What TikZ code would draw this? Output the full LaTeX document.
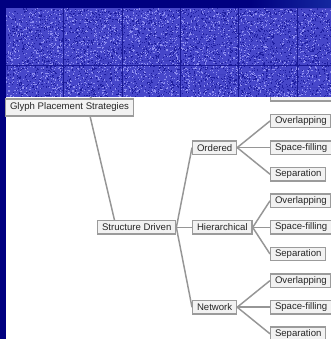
\documentclass[tikz,border=0pt]{standalone}
\usepackage{fontspec}
\setmainfont{Liberation Sans}
\usetikzlibrary{calc}
\definecolor{navy}{RGB}{0,0,128}
\definecolor{ovl}{RGB}{58,58,198}
\definecolor{noiselight}{RGB}{140,140,240}
\definecolor{noisedark}{RGB}{30,30,160}
\definecolor{gridc}{RGB}{25,25,150}
\definecolor{boxfill}{RGB}{242,242,242}
\definecolor{boxline}{RGB}{155,155,155}
\definecolor{linkc}{RGB}{150,150,150}
\definecolor{streak}{RGB}{20,40,160}
\begin{document}
\begin{tikzpicture}[x=0.75pt,y=-0.75pt,
  gbox/.style={draw=boxline, line width=1.1pt, fill=boxfill,
    font=\fontsize{7.2}{8}\selectfont, text=black!85,
    inner xsep=3.2pt, inner ysep=0pt, minimum height=10pt, anchor=west},
  hidbox/.style={gbox, minimum width=#1},
  link/.style={draw=linkc, line width=1.1pt},
]
\useasboundingbox (0,0) rectangle (331,339);
% background frame
\fill[navy] (0,0) rectangle (331,339);
\shade[left color=navy, right color=streak] (250,0) rectangle (331,8.3);
\fill[white] (6,8.3) rectangle (331,339);

% hidden (covered) branch
\begin{scope}
\clip (6,8.3) rectangle (331,339);
\node[hidbox=54.75pt] (dd) at (99,54.5) {};
\node[hidbox=30.75pt] (dc1) at (192,27.9) {};
\node[hidbox=27pt] (dc2) at (193,81.1) {};
\node[hidbox=46.5pt] (dl1) at (270,14.6) {};
\node[hidbox=46.5pt] (dl2) at (270,41.2) {};
\node[hidbox=46.5pt] (dl3) at (270,67.8) {};
\node[hidbox=46.5pt] (dl4) at (270,94.4) {};
\end{scope}

% visible tree
\node[gbox, minimum height=12.5pt] (root) at (5,107.5) {Glyph Placement Strategies};
\node[gbox] (sd) at (97,227.4) {Structure Driven};
\node[gbox] (ord) at (192,147.6) {Ordered};
\node[gbox] (hier) at (192,227.4) {Hierarchical};
\node[gbox] (net) at (192,307.2) {Network};

\node[gbox] (o1) at (270,121) {Overlapping};
\node[gbox] (o2) at (270,147.6) {Space-filling};
\node[gbox] (o3) at (270,174.2) {Separation};
\node[gbox] (h1) at (270,200.8) {Overlapping};
\node[gbox] (h2) at (270,227.4) {Space-filling};
\node[gbox] (h3) at (270,254) {Separation};
\node[gbox] (n1) at (270,280.6) {Overlapping};
\node[gbox] (n2) at (270,307.2) {Space-filling};
\node[gbox] (n3) at (270,333.8) {Separation};

% connectors
\draw[link] ($(root.south west)!0.66!(root.south east)$) -- ($(sd.north west)!0.22!(sd.north east)$);
\draw[link] ($(root.north west)!0.66!(root.north east)$) -- ($(dd.south west)!0.22!(dd.south east)$);
\draw[link] (dd.east) -- (dc1.west);
\draw[link] (dd.east) -- (dc2.west);
\draw[link] (dc1.east) -- (dl1.west);
\draw[link] (dc1.east) -- (dl2.west);
\draw[link] (dc2.east) -- (dl3.west);
\draw[link] (dc2.east) -- (dl4.west);
\draw[link] (sd.east) -- (ord.west);
\draw[link] (sd.east) -- (hier.west);
\draw[link] (sd.east) -- (net.west);
\foreach \p/\c in {ord/o1,ord/o2,ord/o3,hier/h1,hier/h2,hier/h3,net/n1,net/n2,net/n3}
  \draw[link] (\p.east) -- (\c.west);

% noisy blue overlay
\fill[ovl, opacity=0.93] (6,8.3) rectangle (331,96.7);
\begin{scope}
\clip (6,8.3) rectangle (331,96.7);
\pgfmathsetseed{7}
\foreach \i in {1,...,3000}{
  \pgfmathsetmacro\xx{6+325*rnd}
  \pgfmathsetmacro\yy{8.3+89*rnd}
  \fill[noiselight] (\xx,\yy) rectangle ++(1.1,1.1);
}
\foreach \i in {1,...,3000}{
  \pgfmathsetmacro\xx{6+325*rnd}
  \pgfmathsetmacro\yy{8.3+89*rnd}
  \fill[noisedark] (\xx,\yy) rectangle ++(1.1,1.1);
}
\foreach \gx in {63,122,180,238.5,297}
  \draw[gridc, line width=0.6pt] (\gx,8.3) -- (\gx,96.7);
\draw[gridc, line width=0.6pt] (6,65) -- (331,65);
\end{scope}
\end{tikzpicture}
\end{document}
